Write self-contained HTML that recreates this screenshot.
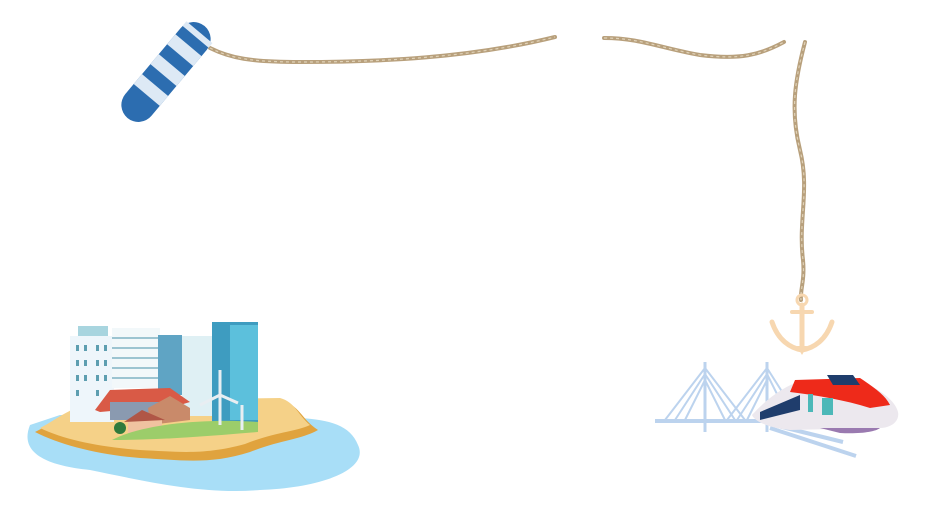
<!DOCTYPE html>
<html><head><style>html,body{margin:0;padding:0;background:#fff;width:925px;height:517px;overflow:hidden}</style></head>
<body>
<svg width="925" height="517" viewBox="0 0 925 517" xmlns="http://www.w3.org/2000/svg">
<!-- ropes -->
<g fill="none" stroke="#b8a07c" stroke-width="4" stroke-linecap="round">
<path d="M210 48 C230 58 250 62 300 62 C380 62 470 58 555 37"/>
<path d="M604 38 C640 38 660 48 700 55 C740 60 760 55 784 42"/>
<path d="M805 42 C795 80 790 110 800 150 C810 190 798 220 803 260 C805 280 800 290 801 300"/>
</g>
<g fill="none" stroke="#e0d2b8" stroke-width="1.2" stroke-dasharray="3 3">
<path d="M210 48 C230 58 250 62 300 62 C380 62 470 58 555 37"/>
<path d="M604 38 C640 38 660 48 700 55 C740 60 760 55 784 42"/>
<path d="M805 42 C795 80 790 110 800 150 C810 190 798 220 803 260 C805 280 800 290 801 300"/>
</g>
<!-- buoy -->
<g transform="translate(166 72) rotate(-50)">
<rect x="-60" y="-17" width="120" height="34" rx="17" fill="#2c6db0"/>
<rect x="-30" y="-17" width="13" height="34" fill="#dde9f5"/>
<rect x="-4" y="-17" width="13" height="34" fill="#dde9f5"/>
<rect x="22" y="-17" width="13" height="34" fill="#dde9f5"/>
<rect x="46" y="-17" width="6" height="34" fill="#dde9f5"/>
</g>
<!-- island -->
<path d="M30 425 C20 450 40 465 90 470 C140 480 200 495 260 490 C320 488 370 470 358 445 C350 425 330 420 300 418 L60 415 Z" fill="#a8def7"/>
<path d="M35 432 C60 420 80 400 120 402 L280 400 C300 405 300 418 318 430 C300 440 280 440 250 452 C210 465 180 460 140 458 C100 455 60 445 35 432 Z" fill="#e0a33e"/>
<path d="M40 428 C60 418 80 398 120 400 L280 398 C295 402 298 415 310 425 C295 432 275 432 245 444 C205 455 180 452 140 450 C100 447 65 440 40 428 Z" fill="#f5d188"/>
<!-- buildings -->
<rect x="70" y="336" width="44" height="86" fill="#eef6fb"/>
<rect x="78" y="326" width="30" height="10" fill="#a8d5df"/>
<g fill="#5d9eb0"><rect x="76" y="345" width="3" height="6"/><rect x="84" y="345" width="3" height="6"/><rect x="96" y="345" width="3" height="6"/><rect x="104" y="345" width="3" height="6"/><rect x="76" y="360" width="3" height="6"/><rect x="84" y="360" width="3" height="6"/><rect x="96" y="360" width="3" height="6"/><rect x="104" y="360" width="3" height="6"/><rect x="76" y="375" width="3" height="6"/><rect x="84" y="375" width="3" height="6"/><rect x="96" y="375" width="3" height="6"/><rect x="104" y="375" width="3" height="6"/><rect x="76" y="390" width="3" height="6"/><rect x="96" y="390" width="3" height="6"/></g>
<rect x="112" y="328" width="48" height="60" fill="#f2f8fa"/>
<g stroke="#7fb3c3" stroke-width="1.5"><line x1="112" y1="338" x2="160" y2="338"/><line x1="112" y1="348" x2="160" y2="348"/><line x1="112" y1="358" x2="160" y2="358"/><line x1="112" y1="368" x2="160" y2="368"/><line x1="112" y1="378" x2="160" y2="378"/></g>
<rect x="158" y="335" width="24" height="60" fill="#5fa4c4"/>
<rect x="182" y="336" width="32" height="80" fill="#dff0f4"/>
<rect x="212" y="322" width="46" height="100" fill="#3e9cc0"/>
<rect x="230" y="325" width="28" height="95" fill="#5cc0dc"/>
<path d="M95 410 L110 390 L170 388 L190 402 L180 405 L100 412Z" fill="#d95a46"/>
<rect x="110" y="402" width="50" height="18" fill="#8a9ab0"/>
<path d="M148 408 L170 396 L190 408 L190 420 L150 425Z" fill="#c98a6a"/>
<rect x="128" y="420" width="34" height="18" fill="#f0c2a0"/>
<path d="M124 422 L142 410 L165 420Z" fill="#b05646"/>
<path d="M112 440 C140 425 200 418 258 422 L258 432 C210 436 160 440 112 440Z" fill="#9ccd6a"/>
<circle cx="120" cy="428" r="6" fill="#2f7a3c"/>
<g stroke="#e8eef2" stroke-width="3"><line x1="220" y1="370" x2="220" y2="425"/><line x1="220" y1="395" x2="200" y2="405"/><line x1="220" y1="395" x2="238" y2="403"/><line x1="242" y1="405" x2="242" y2="430"/></g>
<!-- anchor -->
<g fill="none" stroke="#f7d7b0" stroke-width="5" stroke-linecap="round">
<circle cx="802" cy="300" r="5" stroke-width="3"/>
<line x1="802" y1="305" x2="802" y2="350"/>
<line x1="792" y1="312" x2="812" y2="312" stroke-width="4"/>
<path d="M772 322 C778 340 790 348 802 350 C814 348 826 340 832 322"/>
</g>
<path d="M797 346 L802 355 L807 346Z" fill="#f7d7b0"/>
<!-- bridge -->
<g stroke="#bcd3ee" stroke-width="2" fill="none">
<line x1="705" y1="362" x2="705" y2="432" stroke-width="3"/>
<line x1="767" y1="362" x2="767" y2="432" stroke-width="3"/>
<path d="M705 368 L665 420 M705 374 L675 420 M705 380 L685 420 M705 368 L745 420 M705 374 L735 420 M705 380 L725 420"/>
<path d="M767 368 L727 420 M767 374 L737 420 M767 380 L747 420 M767 368 L800 420 M767 374 L790 420"/>
<line x1="655" y1="421" x2="800" y2="421" stroke-width="4"/>
<path d="M770 424 L843 442 M770 428 L856 456" stroke-width="4"/>
</g>
<!-- train -->
<path d="M752 415 C770 395 790 383 805 380 L860 380 C880 390 895 400 898 412 C900 422 890 428 880 428 L790 430 C770 428 755 422 752 415Z" fill="#ece8ee"/>
<path d="M795 380 L860 378 C875 388 885 395 890 405 L870 408 C845 400 815 395 790 392Z" fill="#ee2a1a"/>
<path d="M827 375 L853 375 L860 385 L833 385Z" fill="#1f3d6c"/>
<rect x="808" y="394" width="5" height="18" fill="#4cb8b8"/>
<rect x="822" y="398" width="11" height="17" fill="#4cb8b8"/>
<path d="M760 412 L800 395 L800 410 L760 420Z" fill="#1f3d6c"/>
<path d="M820 428 L880 428 C875 432 860 434 840 433Z" fill="#9a7ab0"/>
</svg>
</body></html>
